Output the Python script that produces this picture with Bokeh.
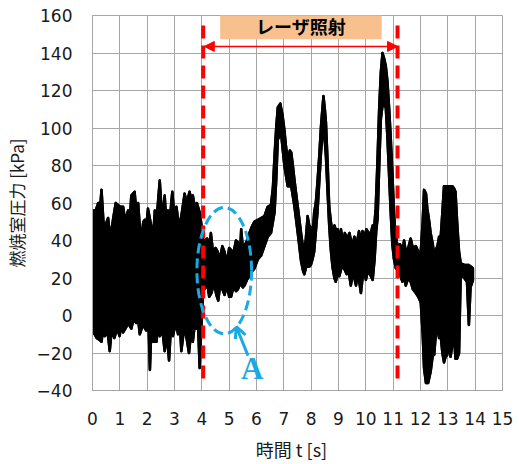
from bokeh.plotting import figure
from bokeh.models import (Range1d, FixedTicker, Label, BoxAnnotation, Arrow,
                          NormalHead, OpenHead)
from bokeh.embed import file_html
from bokeh.resources import INLINE

# Combustion-chamber pressure trace, drawn as its upper / lower envelope [kPa]
upper_t = [0.00, 0.03, 0.12, 0.21, 0.28, 0.33, 0.40, 0.45, 0.52, 0.57, 0.63, 0.69, 0.76, 0.85,
           1.00, 1.12, 1.20, 1.30, 1.36, 1.42, 1.54, 1.60, 1.67, 1.74, 1.79, 1.86, 1.91, 1.97,
           2.03, 2.12, 2.22, 2.28, 2.36, 2.46, 2.52, 2.58, 2.64, 2.70, 2.76, 2.85, 2.92, 3.00,
           3.07, 3.14, 3.19, 3.27, 3.37, 3.45, 3.55, 3.62, 3.67, 3.74, 3.82, 3.92, 3.97, 4.05,
           4.10, 4.20, 4.27, 4.33, 4.42, 4.50, 4.58, 4.66, 4.75, 4.83, 4.92, 5.00, 5.07, 5.15,
           5.25, 5.32, 5.40, 5.44, 5.50, 5.56, 5.65, 5.74, 5.82, 5.92, 6.05, 6.17, 6.29, 6.41,
           6.53, 6.60, 6.66, 6.72, 6.78, 6.87, 6.95, 7.02, 7.08, 7.14, 7.22, 7.27, 7.33, 7.39,
           7.51, 7.63, 7.72, 7.80, 7.87, 7.93, 7.99, 8.05, 8.11, 8.17, 8.23, 8.30, 8.36, 8.42,
           8.45, 8.50, 8.54, 8.60, 8.66, 8.72, 8.78, 8.85, 8.92, 8.97, 9.03, 9.09, 9.17, 9.23,
           9.33, 9.40, 9.50, 9.58, 9.66, 9.75, 9.82, 9.88, 9.95, 10.02, 10.10, 10.18, 10.25,
           10.30, 10.36, 10.42, 10.49, 10.55, 10.61, 10.67, 10.73, 10.79, 10.85, 10.91, 10.97,
           11.03, 11.08, 11.16, 11.25, 11.34, 11.40, 11.46, 11.55, 11.64, 11.72, 11.83, 11.92,
           12.01, 12.08, 12.13, 12.20, 12.25, 12.32, 12.37, 12.45, 12.50, 12.56, 12.62, 12.68,
           12.74, 12.80, 12.86, 12.98, 13.10, 13.16, 13.22, 13.28, 13.34, 13.41, 13.47, 13.60,
           13.75, 13.85, 13.92]
upper_p = [47, 56, 56, 60, 58, 67, 50, 47, 50, 52, 44, 45, 52, 60,
           58, 58, 50, 56, 50, 64, 66, 56, 60, 45, 42, 50, 51, 48,
           57, 50, 42, 56, 54, 72, 58, 55, 64, 50, 56, 55, 66, 52,
           58, 50, 48, 55, 65, 60, 66, 62, 64, 58, 60, 55, 50, 40,
           40, 41, 35, 44, 32, 36, 34, 30, 37, 34, 28, 36, 35, 33,
           40, 39, 34, 46, 36, 37, 40, 44, 47, 50, 51, 52, 53, 58,
           59, 68, 85, 100, 111, 113, 107, 99, 90, 83, 88, 87, 80, 72,
           58, 44, 34, 40, 53, 48, 47, 42, 55, 60, 71, 86, 101, 112,
           117, 110, 103, 82, 58, 50, 44, 48, 45, 46, 40, 46, 38, 44,
           41, 44, 37, 42, 38, 45, 40, 45, 42, 46, 44, 44, 48,
           46, 57, 80, 111, 130, 140, 137, 133, 125, 111, 95, 76,
           55, 44, 37, 38, 35, 40, 34, 36, 41, 36, 37, 34,
           34, 50, 67, 65, 57, 50, 44, 38, 32, 35, 37, 42,
           42, 55, 69, 69, 69, 69, 68, 66, 50, 34, 28, 27,
           27, 26, 25]

lower_t = [0.00, 0.08, 0.15, 0.26, 0.33, 0.40, 0.45, 0.52, 0.58, 0.63, 0.70, 0.80, 0.90, 0.99,
           1.05, 1.12, 1.24, 1.30, 1.42, 1.50, 1.60, 1.67, 1.73, 1.84, 1.97, 2.05, 2.10, 2.15,
           2.20, 2.34, 2.40, 2.46, 2.56, 2.64, 2.72, 2.80, 2.87, 2.94, 3.05, 3.13, 3.20, 3.25,
           3.35, 3.43, 3.53, 3.60, 3.67, 3.74, 3.80, 3.86, 3.92, 3.97, 4.05, 4.10, 4.20, 4.27,
           4.35, 4.45, 4.53, 4.60, 4.66, 4.75, 4.83, 4.92, 5.00, 5.07, 5.15, 5.25, 5.32, 5.40,
           5.50, 5.56, 5.65, 5.74, 5.80, 5.92, 6.05, 6.17, 6.29, 6.41, 6.53, 6.60, 6.66, 6.72,
           6.78, 6.90, 7.02, 7.14, 7.27, 7.39, 7.51, 7.63, 7.70, 7.75, 7.82, 7.93, 7.99, 8.05,
           8.11, 8.23, 8.36, 8.45, 8.54, 8.60, 8.66, 8.72, 8.78, 8.85, 8.90, 8.97, 9.03, 9.12,
           9.21, 9.30, 9.37, 9.45, 9.52, 9.58, 9.64, 9.70, 9.76, 9.82, 9.88, 9.95, 10.00, 10.08,
           10.15, 10.25, 10.32, 10.38, 10.43, 10.49, 10.55, 10.61, 10.67, 10.73, 10.79, 10.85,
           10.91, 10.97, 11.03, 11.10, 11.16, 11.25, 11.34, 11.40, 11.46, 11.55, 11.64, 11.72,
           11.83, 11.92, 12.01, 12.08, 12.13, 12.20, 12.28, 12.37, 12.45, 12.50, 12.56, 12.62,
           12.68, 12.74, 12.80, 12.86, 12.92, 12.98, 13.05, 13.10, 13.16, 13.22, 13.28, 13.34,
           13.41, 13.47, 13.60, 13.70, 13.77, 13.83, 13.92]
lower_p = [-9, -10, -12, -13, -14, -6, -11, -8, -12, -19, -8, -12, -7, -11,
           -6, -9, -6, -4, -7, -2, -4, -2, -10, -5, -8, -4, -29, -8,
           -14, -14, -6, -11, -8, -19, -10, -24, -6, -11, -4, -10, -6, -19,
           -7, -11, -20, -10, -14, -5, -7, -4, -28, -10, 14, 14, 17, 10,
           12, 17, 11, 8, 15, 14, 11, 16, 10, 10, 15, 13, 14, 17,
           15, 16, 19, 21, 23, 25, 30, 32, 37, 42, 44, 50, 55, 72,
           94, 97, 80, 69, 69, 58, 44, 29, 24, 22, 26, 26, 27, 30,
           34, 55, 87, 103, 85, 66, 48, 35, 26, 20, 18, 22, 21, 26,
           25, 22, 24, 16, 22, 20, 16, 22, 18, 12, 20, 25, 19, 24,
           22, 19, 30, 45, 52, 80, 105, 112, 112, 111, 95, 75,
           55, 38, 30, 25, 25, 22, 18, 22, 16, 20, 18, 14,
           12, 10, 7, -10, -28, -36, -36, -30, -21, -21, -10, -7,
           -12, -11, -20, -25, -22, -21, -15, -22, -16, -10, -23, -23,
           -20, 22, 20, 18, -5, 15, 19]

# Laser irradiation window [s]
laser_on, laser_off = 4.05, 11.16

x_ticks = list(range(0, 16))
y_ticks = list(range(-40, 161, 20))

GRID = "#A6A6A6"
BLACK = "#000000"
RED = "#FF0000"
CYAN = "#1AA9E2"
TEXT = "#1a1a1a"

p = figure(width=519, height=464, x_range=Range1d(0, 15), y_range=Range1d(-40, 160),
           output_backend="svg", toolbar_location=None,
           min_border_left=91, min_border_right=17, min_border_top=15, min_border_bottom=72)
p.background_fill_color = "white"
p.border_fill_color = "white"
p.outline_line_color = GRID
p.outline_line_width = 1

for ax in (p.xaxis, p.yaxis):
    ax.axis_line_color = GRID
    ax.major_tick_line_color = None
    ax.minor_tick_line_color = None
    ax.major_tick_out = 0
    ax.major_tick_in = 0
    ax.major_label_text_font = "DejaVu Sans"
    ax.major_label_text_font_size = "17px"
    ax.major_label_text_color = TEXT
    ax.major_label_standoff = 20
    ax.axis_label_text_font = "Noto Sans CJK JP"
    ax.axis_label_text_font_style = "normal"
    ax.axis_label_text_font_size = "17px"
    ax.axis_label_text_color = TEXT

p.xaxis.ticker = FixedTicker(ticks=x_ticks)
p.yaxis.ticker = FixedTicker(ticks=y_ticks)
p.xaxis.major_label_standoff = 21

p.yaxis.axis_label = "燃焼室圧力 [kPa]"
p.yaxis.axis_label_standoff = 5
p.xaxis.axis_label = "   時間 t [s]"
p.xaxis.axis_label_text_font_size = "18px"
p.xaxis.axis_label_standoff = 8

for g in (p.xgrid, p.ygrid):
    g.grid_line_color = GRID
    g.grid_line_width = 1
p.xgrid.ticker = FixedTicker(ticks=x_ticks)
p.ygrid.ticker = FixedTicker(ticks=y_ticks)

# pressure band
band_x = list(upper_t) + list(reversed(lower_t))
band_y = list(upper_p) + list(reversed(lower_p))
p.patch(band_x, band_y, fill_color=BLACK, line_color=BLACK, line_width=2.5, line_join="round")
p.line(upper_t, upper_p, line_color=BLACK, line_width=2.5, line_join="round")
p.line(lower_t, lower_p, line_color=BLACK, line_width=2.5, line_join="round")

# start / end of laser irradiation
p.segment(x0=[laser_on, laser_off], y0=[154.7, 154.7], x1=[laser_on, laser_off], y1=[-37, -37],
          line_color=RED, line_width=4, line_dash="13 7")

# region A
p.ellipse(x=4.82, y=23.9, width=2.0, height=67.4, fill_color=None,
          line_color=CYAN, line_width=3, line_dash="10 5")
p.add_layout(Arrow(end=OpenHead(size=11, line_color=CYAN, line_width=3),
                   x_start=5.69, y_start=-21.4, x_end=5.26, y_end=-6.0,
                   line_color=CYAN, line_width=3))
p.add_layout(Label(x=5.84, y=-28.3, text="A", text_font="Liberation Serif",
                   text_font_style="bold", text_font_size="31px", text_color=CYAN,
                   text_align="center", text_baseline="middle"))

# laser irradiation banner
p.add_layout(BoxAnnotation(left=4.67, right=10.58, bottom=147.4, top=161.6,
                           fill_color="#F9C08F", fill_alpha=1.0, line_color=None))
p.add_layout(Label(x=7.63, y=154.4, text="レーザ照射", text_font="Noto Sans CJK JP",
                   text_font_style="bold", text_font_size="18px", text_color=BLACK,
                   text_align="center", text_baseline="middle"))
p.add_layout(Arrow(start=NormalHead(size=10, fill_color=RED, line_color=RED),
                   end=NormalHead(size=10, fill_color=RED, line_color=RED),
                   x_start=laser_on + 0.04, y_start=143.5, x_end=laser_off, y_end=143.5,
                   line_color=RED, line_width=1.5))

open("out.html", "w").write(file_html(p, INLINE))
